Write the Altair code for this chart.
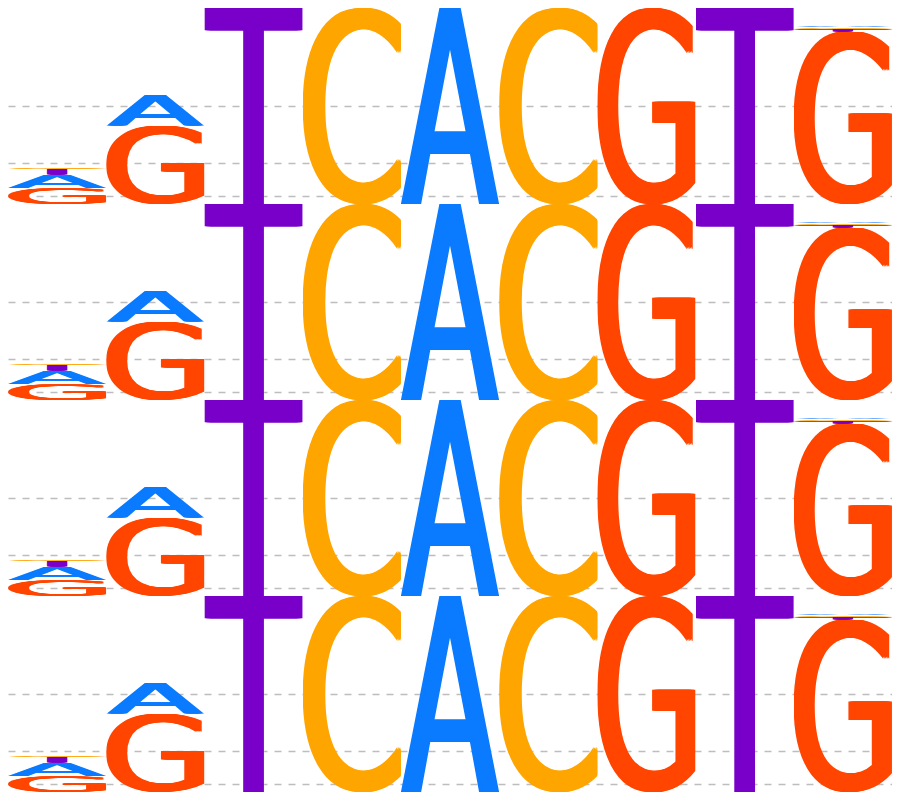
import urllib.parse

import altair as alt
import pandas as pd

positions = [1, 2, 3, 4, 5, 6, 7, 8, 9]
bits_A = [0.14, 0.32, 0, 0, 2.0, 0, 0, 0, 0.01]
bits_C = [0.012, 0, 0, 2.0, 0, 2.0, 0, 0, 0.012]
bits_G = [0.16, 0.80, 0, 0, 0, 0, 2.0, 0, 1.76]
bits_T = [0.06, 0, 2.0, 0, 0, 0, 0, 2.0, 0.03]
grid_bits = [0.077, 0.415, 1.0]

colors = {"A": "#0a7bff", "C": "#ffa500", "G": "#ff4500", "T": "#7800c8"}

# DejaVu Sans boxes in font units: advance, xmin, xmax, ymin, ymax
metrics = {
    "A": (1401, 16, 1384, 0, 1493),
    "C": (1430, 115, 1290, -29, 1520),
    "G": (1577, 115, 1411, -29, 1520),
    "T": (1251, -6, 1257, 0, 1493),
}


def glyph(letter, bold=6):
    # letter as svg text, ink stretched to fill a 100x100 box
    adv, x0, x1, y0, y1 = metrics[letter]
    ink = 100 - bold
    u = 100 / (y1 - y0)
    length = ink * adv / (x1 - x0)
    left = -ink * x0 / (x1 - x0)
    texts = "".join(
        f"<text x='{left + dx:.2f}' y='{y1 * u:.2f}' font-size='{2048 * u:.2f}' "
        f"textLength='{length:.2f}' lengthAdjust='spacingAndGlyphs'>{letter}</text>"
        for dx in [0, bold / 4, bold / 2, 3 * bold / 4, bold]
    )
    svg = (
        "<svg xmlns='http://www.w3.org/2000/svg' width='100' height='100' "
        "viewBox='0 0 100 100' preserveAspectRatio='none'>"
        f"<g font-family='DejaVu Sans' fill='{colors[letter]}'>{texts}</g></svg>"
    )
    return "data:image/svg+xml," + urllib.parse.quote(svg)


rows = []
for base, bits in [("A", bits_A), ("C", bits_C), ("G", bits_G), ("T", bits_T)]:
    for pos, b in zip(positions, bits):
        if b > 0:
            rows.append({"pos": pos, "base": base, "bits": b, "url": glyph(base)})
df = pd.DataFrame(rows)

W, H = 884, 196

panel = alt.Chart(df).transform_stack(
    stack="bits",
    groupby=["pos"],
    sort=[alt.SortField("bits", order="descending")],
    as_=["y0", "y1"],
).mark_image(aspect=False).encode(
    x=alt.X("pos:O", axis=None, scale=alt.Scale(type="band", paddingInner=0, paddingOuter=0)),
    y=alt.Y("y0:Q", scale=alt.Scale(domain=[0, 2], nice=False),
            axis=alt.Axis(values=grid_bits, grid=True, gridDash=[7, 7], gridColor="#bdbdbd",
                          gridWidth=1.6, labels=False, ticks=False, domain=False,
                          title=None, minExtent=0)),
    y2="y1:Q",
    url="url:N",
).properties(width=W, height=H)

chart = alt.vconcat(panel, panel, panel, panel, spacing=0).properties(
    padding=0
).configure_view(stroke=None)

chart.save("out.html", embed_options={"renderer": "svg", "actions": False})
